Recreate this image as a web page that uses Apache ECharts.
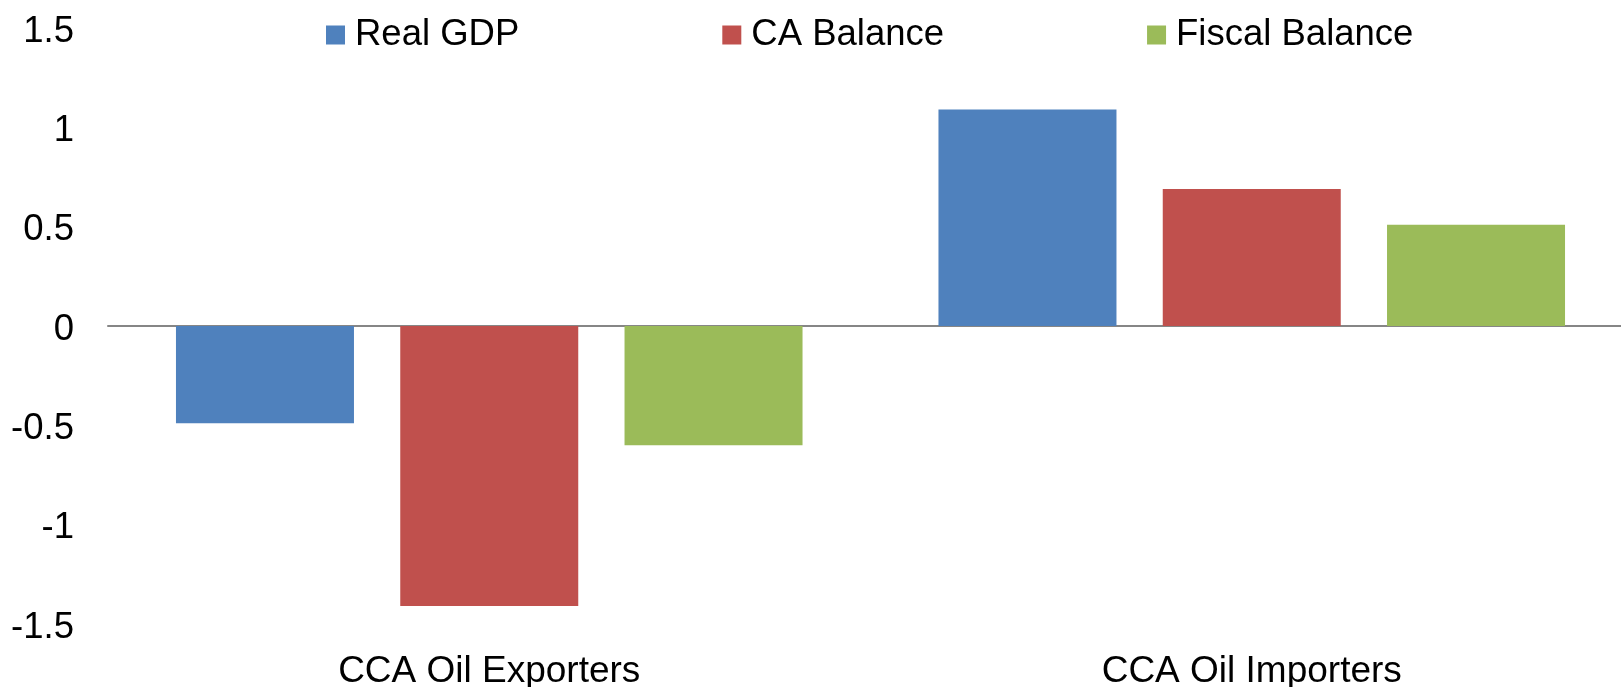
<!DOCTYPE html>
<html>
<head>
<meta charset="utf-8">
<script src="https://cdn.jsdelivr.net/npm/echarts@6/dist/echarts.min.js"></script>
<style>
html,body{margin:0;padding:0;background:#fff;}
#chart{width:1621px;height:687px;}
</style>
</head>
<body>
<div id="chart"></div>
<script>
const categories = ['CCA Oil Exporters', 'CCA Oil Importers'];
const seriesNames = ['Real GDP', 'CA Balance', 'Fiscal Balance'];
const realGDP = [-0.49, 1.09];
const caBalance = [-1.41, 0.69];
const fiscalBalance = [-0.6, 0.51];
const colors = ['#4F81BD', '#C0504D', '#9BBB59'];

const FONT = 'Liberation Sans, Arial, sans-serif';
const chart = echarts.init(document.getElementById('chart'), null, {renderer: 'canvas'});

const values = [realGDP, caBalance, fiscalBalance];
const series = seriesNames.map((n, i) => ({
  name: n,
  type: 'bar',
  data: values[i],
  barWidth: 178,
  barGap: '26%',
  xAxisIndex: 0,
  itemStyle: {color: colors[i]}
}));

chart.setOption({
  animation: false,
  backgroundColor: '#ffffff',
  grid: {left: 108, top: 28, width: 1525, height: 596, containLabel: false, outerBoundsMode: 'none'},
  legend: {
    data: seriesNames,
    left: 326,
    top: 16,
    padding: 0,
    itemWidth: 19,
    itemHeight: 19,
    itemGap: 203,
    icon: 'rect',
    textStyle: {fontFamily: FONT, fontSize: 36.5, color: '#000', lineHeight: 38, padding: [0, 0, 0, 5]}
  },
  xAxis: [
    {
      type: 'category',
      data: categories,
      position: 'bottom',
      axisLine: {show: false, onZero: false},
      axisTick: {show: false},
      axisLabel: {fontFamily: FONT, fontSize: 37, color: '#000', margin: 29}
    },
    {
      type: 'category',
      data: categories,
      position: 'top',
      axisLine: {show: true, onZero: true, lineStyle: {color: '#868686', width: 2}},
      axisTick: {show: false},
      axisLabel: {show: false}
    }
  ],
  yAxis: {
    type: 'value',
    min: -1.5,
    max: 1.5,
    interval: 0.5,
    axisLine: {show: false},
    axisTick: {show: false},
    splitLine: {show: false},
    axisLabel: {
      margin: 34,
      formatter: v => '{a|' + v + '}',
      rich: {a: {fontFamily: FONT, fontSize: 36.5, color: '#000', lineHeight: 37, padding: [7, 0, 0, 0]}}
    }
  },
  series: series
});
</script>
</body>
</html>
